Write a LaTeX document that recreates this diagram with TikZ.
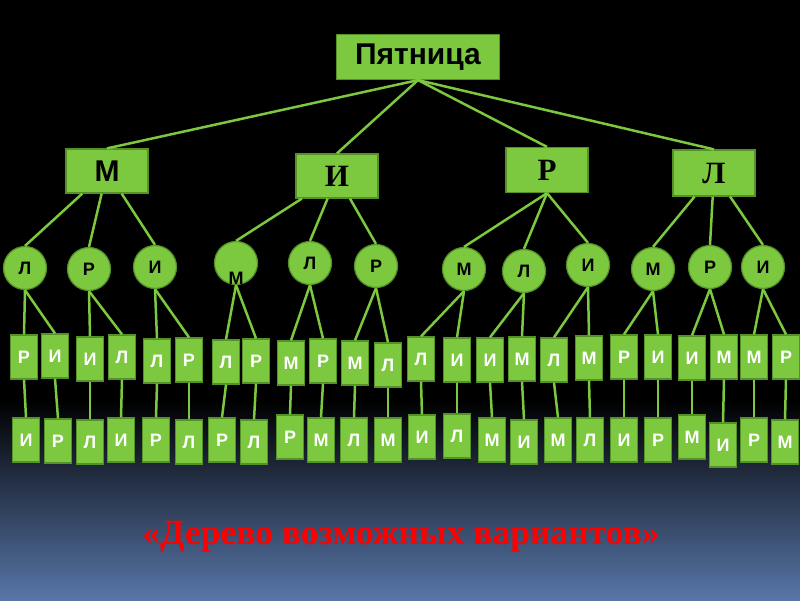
\documentclass[tikz,border=0pt]{standalone}
\usepackage{fontspec}
\setmainfont{Liberation Serif}
\setsansfont{Liberation Sans}
\usetikzlibrary{positioning}
\definecolor{leaf}{RGB}{124,200,62}
\definecolor{leafdark}{RGB}{84,146,40}
\definecolor{dusk}{RGB}{88,118,168}

\begin{document}
\begin{tikzpicture}[x=1pt,y=-1pt,
  box/.style={draw=leafdark, line width=1.2pt, fill=leaf, inner sep=0pt},
  topbox/.style={box, minimum width=163pt, minimum height=45pt, font=\sffamily\bfseries\fontsize{30}{30}\selectfont},
  firstbox/.style={box, minimum width=82pt, minimum height=44pt, font=\bfseries\fontsize{31}{31}\selectfont},
  circ/.style={box, circle, minimum size=43pt, font=\sffamily\bfseries\fontsize{18}{18}\selectfont},
  leafbox/.style={box, minimum width=27pt, minimum height=44pt, text=white, font=\sffamily\bfseries\fontsize{18}{18}\selectfont},
  link/.style={draw=leaf, line width=2.5pt},
  title/.style={text=red, font=\bfseries\fontsize{35.5}{35.5}\selectfont}
]
  % background: black, fading to blue at the bottom
  \fill[black] (0,0) rectangle (800,600);
  \shade[top color=black, bottom color=dusk] (0,400) rectangle (800,600);
  \useasboundingbox (0,0) rectangle (800,600);

  \node[topbox] (root) at (418,57) {Пятница};
  \node[firstbox, font=\sffamily\bfseries\fontsize{30}{30}\selectfont] (m) at (107,171) {М};
  \node[firstbox] (i) at (337,176) {И};
  \node[firstbox, minimum height=45pt] (r) at (547,170) {Р};
  \node[firstbox, minimum height=46pt] (l) at (714,173) {Л};

  \foreach \n/\x/\y/\t in {c1/25/268/Л, c2/89/269/Р, c3/155/267/И, c5/310/263/Л, c6/376/266/Р,
      c7/464/269/М, c8/524/271/Л, c9/588/265/И, c10/653/269/М, c11/710/267/Р, c12/763/267/И}
    \node[circ] (\n) at (\x,\y) {\t};
  \node[circ, label={[font=\sffamily\bfseries\fontsize{18}{18}\selectfont, yshift=-15pt]center:М}] (c4) at (236,263) {};

  \foreach \n/\x/\y/\t in {a1/24/357/Р, a2/55/356/И, a3/90/359/И, a4/122/357/Л, a5/157/361/Л, a6/189/360/Р,
      a7/226/362/Л, a8/256/361/Р, a9/291/363/М, a10/323/361/Р, a11/355/363/М, a12/388/365/Л,
      a13/421/359/Л, a14/457/360/И, a15/490/360/И, a16/522/359/М, a17/554/360/Л, a18/589/358/М,
      a19/624/357/Р, a20/658/357/И, a21/692/358/И, a22/724/357/М, a23/754/357/М, a24/786/357/Р}
    \node[leafbox] (\n) at (\x,\y) {\t};

  \foreach \n/\x/\y/\t in {b1/26/440/И, b2/58/441/Р, b3/90/442/Л, b4/121/440/И, b5/156/440/Р, b6/189/442/Л,
      b7/222/440/Р, b8/254/442/Л, b9/290/437/Р, b10/321/440/М, b11/354/440/Л, b12/388/440/М,
      b13/422/437/И, b14/457/436/Л, b15/492/440/М, b16/524/442/И, b17/558/440/М, b18/590/440/Л,
      b19/624/440/И, b20/658/440/Р, b21/692/437/М, b22/723/445/И, b23/754/440/Р, b24/785/442/М}
    \node[leafbox] (\n) at (\x,\y) {\t};

  \foreach \k in {m,i,r,l}
    \draw[link] (root.south) -- (\k.north);
  \foreach \k/\c in {m/c1, m/c2, m/c3, i/c4, i/c5, i/c6, l/c10, l/c11, l/c12}
    \draw[link] (\k) -- (\c.north);
  \foreach \c in {c7,c8,c9}
    \draw[link] (r.south) -- (\c.north);
  \foreach \j in {1,...,12}{
    \pgfmathtruncatemacro{\p}{2*\j-1}
    \pgfmathtruncatemacro{\q}{2*\j}
    \draw[link] (c\j.south) -- (a\p.north);
    \draw[link] (c\j.south) -- (a\q.north);
  }
  \foreach \j in {1,...,24}
    \draw[link] (a\j.south) -- (b\j.north);

  \node[title] (caption) at (401,537) {«Дерево возможных вариантов»};
\end{tikzpicture}
\end{document}
